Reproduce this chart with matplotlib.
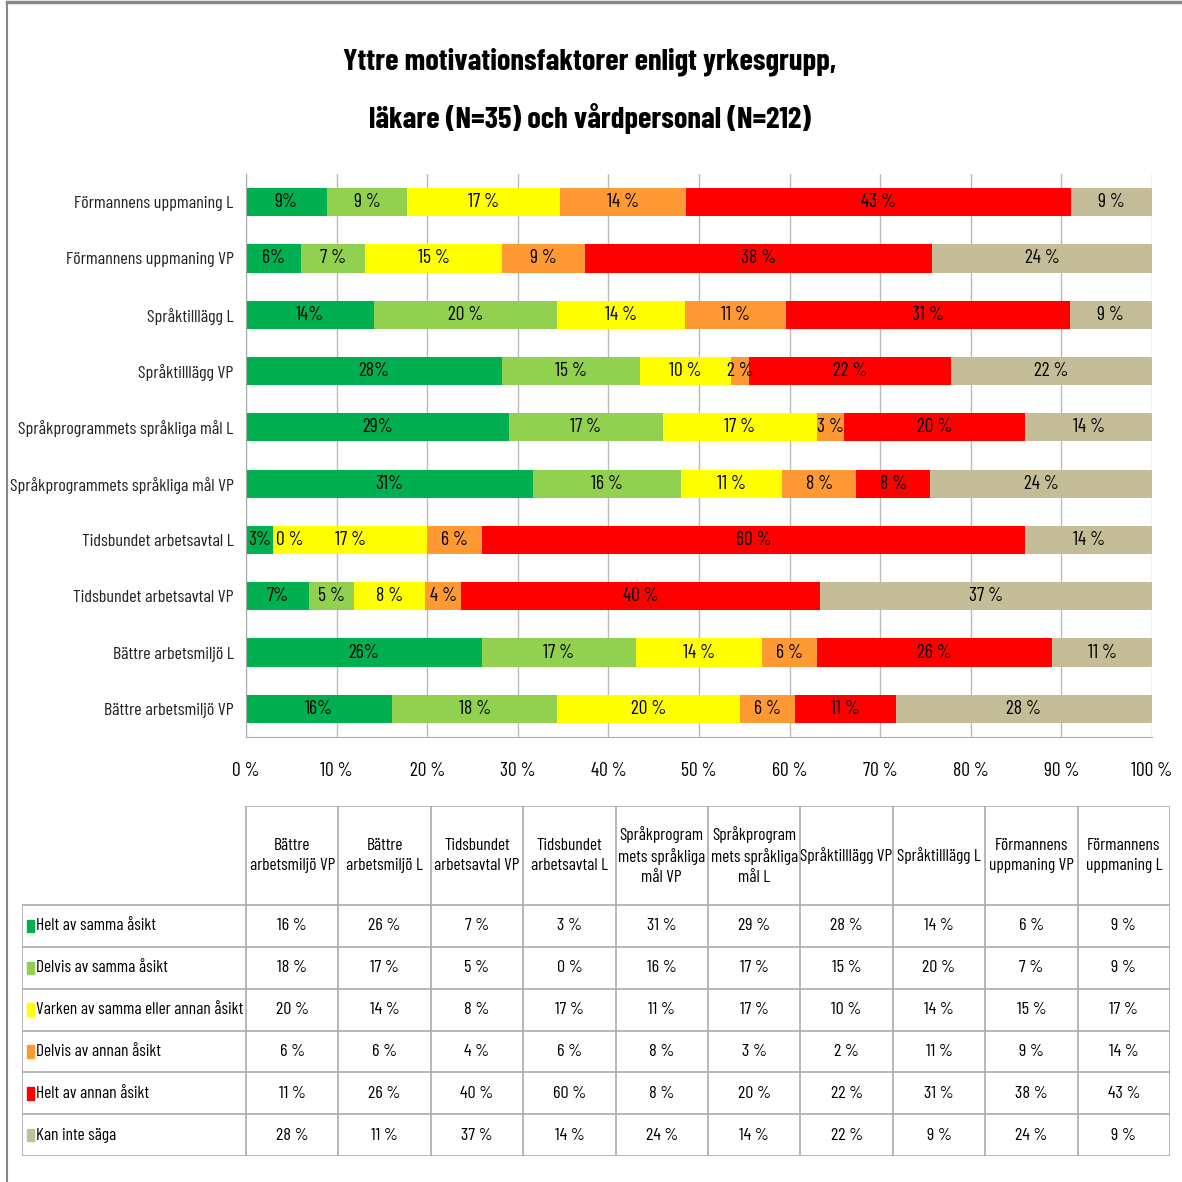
import matplotlib.pyplot as plt
from matplotlib.patches import Rectangle
import numpy as np

plt.rcParams['font.family'] = ['Barlow Condensed', 'DejaVu Sans']

# kategorier, nerifrån och upp (samma ordning som tabellens kolumner)
categories = ['Bättre arbetsmiljö VP', 'Bättre arbetsmiljö L',
              'Tidsbundet arbetsavtal VP', 'Tidsbundet arbetsavtal L',
              'Språkprogrammets språkliga mål VP', 'Språkprogrammets språkliga mål L',
              'Språktilllägg VP', 'Språktilllägg L',
              'Förmannens uppmaning VP', 'Förmannens uppmaning L']
header_labels = ['Bättre\narbetsmiljö VP', 'Bättre\narbetsmiljö L',
                 'Tidsbundet\narbetsavtal VP', 'Tidsbundet\narbetsavtal L',
                 'Språkprogram\nmets språkliga\nmål VP', 'Språkprogram\nmets språkliga\nmål L',
                 'Språktilllägg VP', 'Språktilllägg L',
                 'Förmannens\nuppmaning VP', 'Förmannens\nuppmaning L']

series_names = ['Helt av samma åsikt', 'Delvis av samma åsikt',
                'Varken av samma eller annan åsikt', 'Delvis av annan åsikt',
                'Helt av annan åsikt', 'Kan inte säga']
helt_samma = [16, 26, 7, 3, 31, 29, 28, 14, 6, 9]
delvis_samma = [18, 17, 5, 0, 16, 17, 15, 20, 7, 9]
varken = [20, 14, 8, 17, 11, 17, 10, 14, 15, 17]
delvis_annan = [6, 6, 4, 6, 8, 3, 2, 11, 9, 14]
helt_annan = [11, 26, 40, 60, 8, 20, 22, 31, 38, 43]
kan_inte = [28, 11, 37, 14, 24, 14, 22, 9, 24, 9]
series = [helt_samma, delvis_samma, varken, delvis_annan, helt_annan, kan_inte]
colors = ['#00B050', '#92D050', '#FFFF00', '#FF9933', '#FF0000', '#C4BD97']

W, H = 1182, 1182
fig = plt.figure(figsize=(W / 100, H / 100), dpi=100)

def box(x0, y0, x1, y1):
    # pixelkoordinater (uppifrån) -> figurkoordinater
    return [x0 / W, 1 - y1 / H, (x1 - x0) / W, (y1 - y0) / H]

# ram runt diagrammet
fig.add_artist(plt.Line2D([7 / W, 7 / W], [0, 1 - 2 / H], color='#888888', lw=1.5))
fig.add_artist(plt.Line2D([7 / W, 1], [1 - 2 / H, 1 - 2 / H], color='#888888', lw=2.5))

fig.text(590 / W, 1 - 62 / H, 'Yttre motivationsfaktorer enligt yrkesgrupp,',
         ha='center', va='center', fontsize=22, fontweight='bold')
fig.text(590 / W, 1 - 118 / H, 'läkare (N=35) och vårdpersonal (N=212)',
         ha='center', va='center', fontsize=22, fontweight='bold')

fs = 14
tfs = 12.5

# ---- staplat stapeldiagram ----
ax = fig.add_axes(box(246, 174, 1152, 737))
data = np.array(series, dtype=float)
totals = data.sum(axis=0)
shares = data / totals * 100
y = np.arange(len(categories))
left = np.zeros(len(categories))
for i, (vals, col) in enumerate(zip(shares, colors)):
    ax.barh(y, vals, left=left, height=0.5, color=col, zorder=2)
    for j, v in enumerate(vals):
        raw = series[i][j]
        txt = f'{raw}%' if i == 0 else f'{raw} %'
        if raw == 0:
            ax.text(left[j] + 0.3, y[j], txt, ha='left', va='center', fontsize=fs, zorder=3)
        else:
            ax.text(left[j] + v / 2, y[j], txt, ha='center', va='center', fontsize=fs, zorder=3)
    left += vals

ax.set_xlim(0, 100)
ax.set_ylim(-0.5, len(categories) - 0.5)
ax.set_xticks(np.arange(0, 101, 10))
ax.set_xticklabels([f'{t} %' for t in range(0, 101, 10)], fontsize=fs)
ax.set_yticks(y)
ax.set_yticklabels(categories, fontsize=13, color='#222222')
ax.tick_params(axis='y', length=0, pad=9)
ax.tick_params(axis='x', length=0, pad=18)
ax.grid(axis='x', color='#BBBBBB', lw=1, zorder=0)
for s in ['top', 'right']:
    ax.spines[s].set_visible(False)
for s in ['left', 'bottom']:
    ax.spines[s].set_color('#AAAAAA')

# ---- datatabell ----
tax = fig.add_axes(box(22, 806, 1170, 1156))
lab_w = (246 - 22) / 92.4
head_h = (905 - 806) / 41.8
nrows = len(series_names)
ncols = len(categories)
tax.set_xlim(-lab_w, ncols)
tax.set_ylim(0, nrows + head_h)
tax.axis('off')
lc = '#AAAAAA'
# horisontella linjer
tax.plot([0, ncols], [nrows + head_h] * 2, color=lc, lw=1.2)
for r in range(nrows + 1):
    tax.plot([-lab_w, ncols], [r, r], color=lc, lw=1.2)
# vertikala linjer
tax.plot([-lab_w, -lab_w], [0, nrows], color=lc, lw=1.2)
for c in range(ncols + 1):
    tax.plot([c, c], [0, nrows + head_h], color=lc, lw=1.2)

for c, hl in enumerate(header_labels):
    tax.text(c + 0.5, nrows + head_h / 2, hl, ha='center', va='center',
             fontsize=tfs, linespacing=1.35)
for r, (name, vals, col) in enumerate(zip(series_names, series, colors)):
    yy = nrows - r - 0.5
    tax.add_patch(Rectangle((-lab_w + 0.05, yy - 0.15), 0.08, 0.3, color=col))
    tax.text(-lab_w + 0.15, yy, name, ha='left', va='center', fontsize=tfs)
    for c, v in enumerate(vals):
        tax.text(c + 0.5, yy, f'{v} %', ha='center', va='center', fontsize=tfs + 0.5)

plt.savefig('out.png', dpi=100)
